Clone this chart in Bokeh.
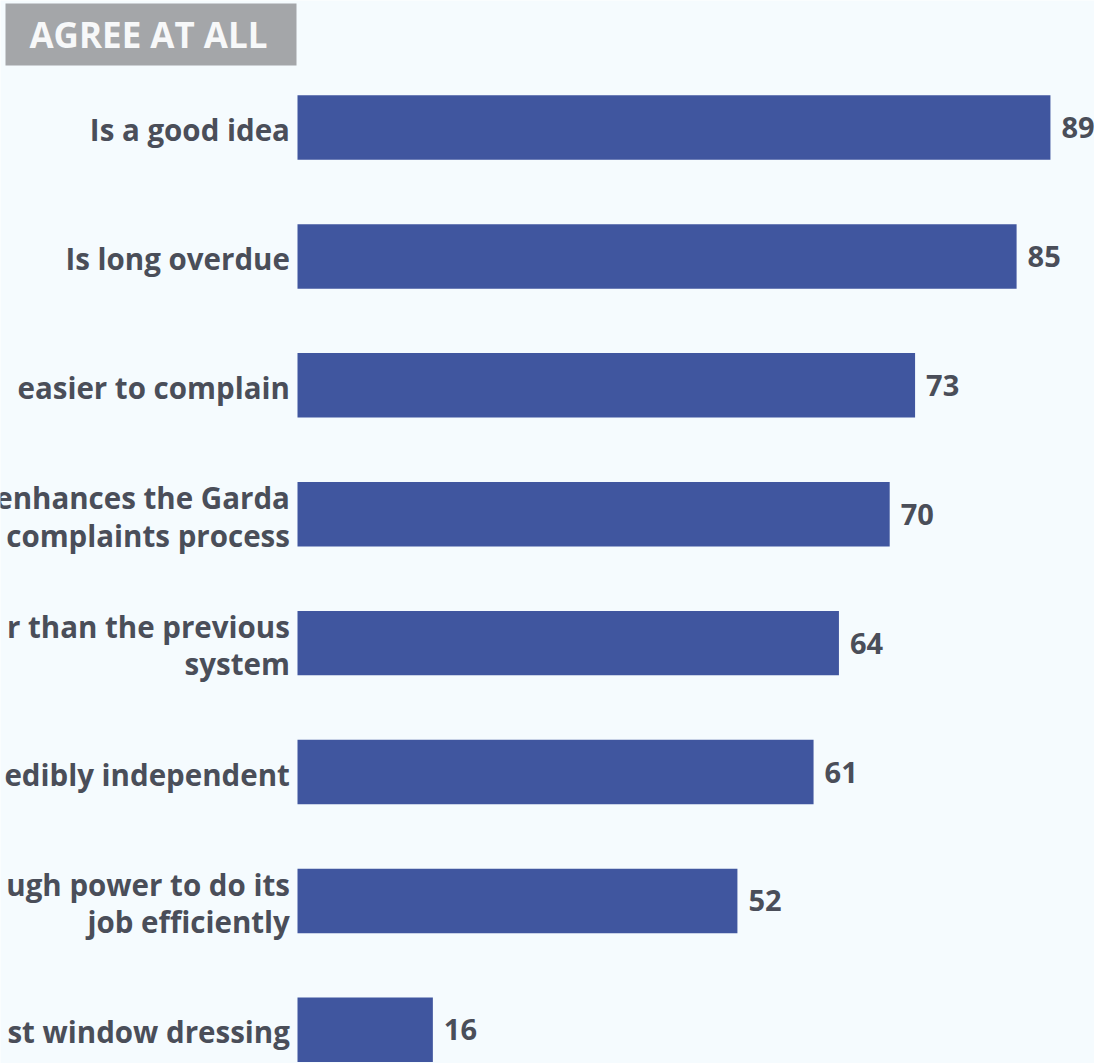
from bokeh.plotting import figure
from bokeh.models import ColumnDataSource, Range1d
from bokeh.core.properties import value
from bokeh.embed import file_html
from bokeh.resources import INLINE
import numpy as np

# Statement labels (top to bottom) as they appear beside the bars, and share agreeing, in percent
statements = [
    "Is a good idea",
    "Is long overdue",
    "easier to complain",
    "enhances the Garda\ncomplaints process",
    "r than the previous\nsystem",
    "edibly independent",
    "ugh power to do its\njob efficiently",
    "st window dressing",
]
agree_pct = [89, 85, 73, 70, 64, 61, 52, 16]
value_labels = [str(v) for v in agree_pct]
heading = "AGREE AT ALL"

BG = "#f5fbfe"
BAR = "#40569f"
INK = "#4a4e59"
FONT = "Open Sans"

W, H = 1094, 1063
# horizontal scale: 0 % sits 297 px from the left edge, 8.46 px per point
x0_px, x_scale = 297.0, 8.46
# vertical scale: one row per statement, 128.9 px apart, first row centred at 127 px
y0_px, row_px = 127.0, 128.9

x_range = Range1d((0 - x0_px) / x_scale, (W - x0_px) / x_scale)
y_range = Range1d((H - y0_px) / row_px, (0 - y0_px) / row_px)

p = figure(width=W, height=H, x_range=x_range, y_range=y_range,
           output_backend="svg", toolbar_location=None,
           min_border=0, background_fill_color=BG, border_fill_color=BG)
p.axis.visible = False
p.grid.visible = False
p.outline_line_color = None

rows = np.arange(len(statements))
src = ColumnDataSource(dict(
    y=rows,
    pct=agree_pct,
    label=statements,
    vlabel=value_labels,
))

p.hbar(y="y", left=0, right="pct", height=0.5, source=src,
       fill_color=BAR, line_color=None)

# statement labels, right-aligned against the bars
p.text(x=-0.9, y="y", text="label", source=src,
       text_align="right", text_baseline="middle",
       text_font=value(FONT), text_font_style="bold",
       text_font_size="29.5px", text_color=INK, text_line_height=0.92,
       y_offset=2)

# value labels at the end of each bar
p.text(x="pct", y="y", text="vlabel", source=src, x_offset=11,
       text_align="left", text_baseline="middle",
       text_font=value(FONT), text_font_style="bold",
       text_font_size="29px", text_color=INK)

# heading box
def px_x(v):
    return (v - x0_px) / x_scale

def px_y(v):
    return (v - y0_px) / row_px

p.quad(left=[px_x(5)], right=[px_x(296)], top=[px_y(3)], bottom=[px_y(65)],
       fill_color="#a4a6a9", line_color=None)
p.text(x=[px_x(148)], y=[px_y(34)], text=[heading],
       text_align="center", text_baseline="middle",
       text_font=value(FONT), text_font_style="bold",
       text_font_size="35px", text_color="#f7f8f9")

open("out.html", "w").write(file_html(p, INLINE))
